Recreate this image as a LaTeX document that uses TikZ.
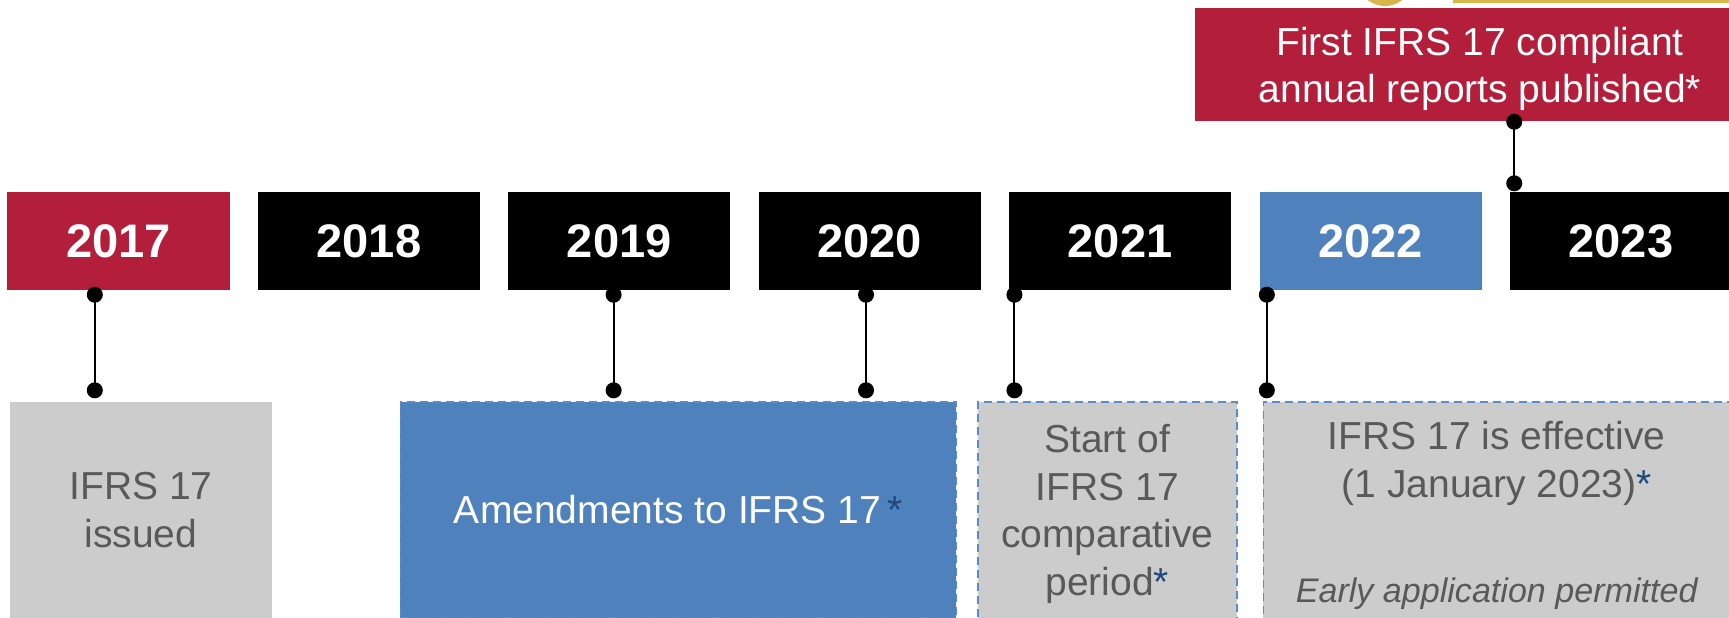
\documentclass[tikz,border=0pt]{standalone}
\usepackage{fontspec}
\setmainfont{Liberation Sans}
\usetikzlibrary{positioning, arrows.meta}

\definecolor{ifrsred}{RGB}{179,31,58}
\definecolor{ifrsblue}{RGB}{79,129,189}
\definecolor{dashblue}{RGB}{90,140,200}
\definecolor{boxgray}{RGB}{204,204,204}
\definecolor{txtgray}{RGB}{89,89,89}
\definecolor{stardark}{RGB}{31,73,125}
\definecolor{goldy}{RGB}{216,182,74}

\begin{document}
\begin{tikzpicture}[
        node distance=0.27cm and 0.27cm,
        yr/.style={fill=black, text=white, inner sep=0pt, minimum width=2.22cm, minimum height=0.98cm,
                   font=\fontsize{13.4}{16}\selectfont\bfseries},
        topbox/.style={fill=ifrsred, text=white, inner sep=0pt, align=center, minimum width=5.71cm,
                   minimum height=1.13cm, font=\fontsize{11.1}{13.2}\selectfont},
        evt/.style={fill=boxgray, text=txtgray, inner sep=0pt, align=center, minimum height=2.16cm,
                   font=\fontsize{11.1}{13.6}\selectfont},
        dashbox/.style={draw=dashblue, line width=0.4pt, dash pattern=on 0.8mm off 0.5mm},
        pin/.style={{Circle[length=1.6mm]}-{Circle[length=1.6mm]}, line width=0.57pt, black}
    ]
    \useasboundingbox (0,0) rectangle (17.29,-6.17);

    % Remnant at the top edge
    \fill[goldy] (13.85,0.22) circle (0.28);
    \fill[goldy] (14.53,0.10) rectangle (17.40,-0.03);

    % Top: first reports
    \node[topbox] (first) at (14.80,-0.645)
        {\rule{0pt}{10.6pt}First IFRS 17 compliant\\annual reports published*};

    % Level 1: Years
    \node[yr, fill=ifrsred] (y2017) at (1.185,-2.41) {2017};
    \node[yr, right=of y2017] (y2018) {2018};
    \node[yr, right=of y2018] (y2019) {2019};
    \node[yr, right=of y2019] (y2020) {2020};
    \node[yr, right=of y2020] (y2021) {2021};
    \node[yr, fill=ifrsblue, right=of y2021] (y2022) {2022};
    \node[yr, right=of y2022] (y2023) {2023};

    % Level 2: Events
    \node[evt, minimum width=2.62cm] (issued) at (1.41,-5.10) {IFRS 17\\issued};
    \node[evt, dashbox, fill=ifrsblue, text=white, minimum width=5.56cm, right=1.27cm of issued] (amend)
        {Amendments to IFRS 17\,\textcolor{stardark}{*}};
    \node[evt, dashbox, minimum width=2.59cm, minimum height=2.24cm, anchor=north west]
        (compar) at ([xshift=0.20cm]amend.north east)
        {Start of\\IFRS 17\\comparative\\period\textcolor{stardark}{*}};
    \node[evt, dashbox, minimum width=4.67cm, minimum height=2.27cm, anchor=north west]
        (effect) at ([xshift=0.25cm]compar.north east)
        {IFRS 17 is effective\\(1 January 2023)\textcolor{stardark}{*}\\[0.58cm]
         {\fontsize{9.7}{11}\selectfont\itshape Early application permitted}};

    % Connectors
    \coordinate (c17) at ([xshift=0.88cm]y2017.south west);
    \coordinate (c19) at ([xshift=1.06cm]y2019.south west);
    \coordinate (c20) at ([xshift=1.08cm]y2020.south west);
    \coordinate (c21) at ([xshift=0.06cm]y2021.south west);
    \coordinate (c22) at ([xshift=0.08cm]y2022.south west);
    \coordinate (c23) at ([xshift=0.05cm]y2023.north west);

    \draw[pin, shorten <=-0.4mm, shorten >=0.3mm] (c17) -- (c17 |- issued.north);
    \draw[pin, shorten <=-0.4mm, shorten >=0.3mm] (c19) -- (c19 |- amend.north);
    \draw[pin, shorten <=-0.4mm, shorten >=0.3mm] (c20) -- (c20 |- amend.north);
    \draw[pin, shorten <=-0.4mm, shorten >=0.3mm] (c21) -- (c21 |- compar.north);
    \draw[pin, shorten <=-0.4mm, shorten >=0.3mm] (c22) -- (c22 |- effect.north);
    \draw[pin, shorten <=-0.8mm] (c23 |- first.south) -- (c23);

\end{tikzpicture}
\end{document}
